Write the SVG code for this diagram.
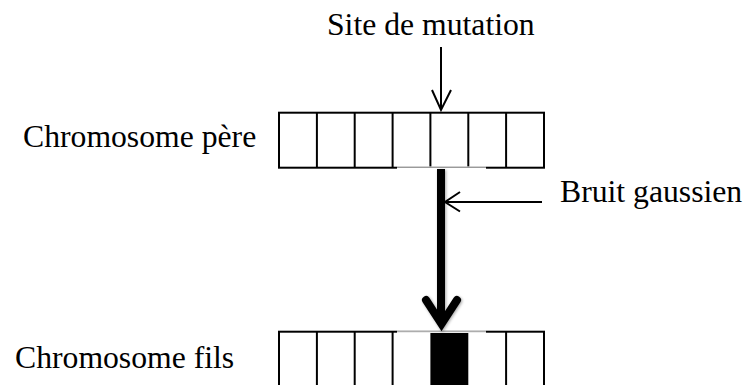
<svg xmlns="http://www.w3.org/2000/svg" width="744" height="385" viewBox="0 0 744 385">
  <style>
    .label { font-family: "Liberation Serif", "Times New Roman", serif; font-size: 31.7px; fill: #000; }
    .cell { fill: #fff; stroke: #000; stroke-width: 2; }
    .div { stroke: #000; stroke-width: 2; }
    .thin { fill: none; stroke: #000; stroke-width: 2; }
    .thick { fill: none; stroke: #000; stroke-width: 8; }
    .seam { stroke: #9a9a9a; stroke-width: 1; }
  </style>
  <defs>
    <filter id="soft" x="-30%" y="-10%" width="160%" height="120%">
      <feGaussianBlur in="SourceAlpha" stdDeviation="1.6" result="b"/>
      <feOffset dx="1" dy="1" result="o"/>
      <feComponentTransfer in="o" result="s"><feFuncA type="linear" slope="0.35"/></feComponentTransfer>
      <feMerge><feMergeNode in="s"/><feMergeNode in="SourceGraphic"/></feMerge>
    </filter>
  </defs>

  <!-- parent chromosome: 7 genes -->
  <g id="chromosome-pere">
    <rect class="cell" x="279" y="112.7" width="265" height="55"/>
    <line class="div" x1="316.9" y1="112.7" x2="316.9" y2="167.7"/>
    <line class="div" x1="354.7" y1="112.7" x2="354.7" y2="167.7"/>
    <line class="div" x1="392.6" y1="112.7" x2="392.6" y2="167.7"/>
    <line class="div" x1="430.4" y1="112.7" x2="430.4" y2="166.7"/>
    <line class="div" x1="468.3" y1="112.7" x2="468.3" y2="166.7"/>
    <line class="div" x1="506.1" y1="112.7" x2="506.1" y2="167.7"/>
    <!-- softened segment of the lower edge -->
    <rect x="397" y="166.6" width="89" height="2.4" fill="#fff"/>
    <line class="seam" x1="397" y1="167.5" x2="486" y2="167.5"/>
    <text class="label" x="23" y="147">Chromosome père</text>
  </g>

  <!-- child chromosome: mutated gene filled -->
  <g id="chromosome-fils">
    <rect class="cell" x="279" y="331.7" width="265" height="60"/>
    <line class="div" x1="316.9" y1="331.7" x2="316.9" y2="391"/>
    <line class="div" x1="354.7" y1="331.7" x2="354.7" y2="391"/>
    <line class="div" x1="392.6" y1="331.7" x2="392.6" y2="391"/>
    <line class="div" x1="506.1" y1="331.7" x2="506.1" y2="391"/>
    <rect x="397" y="330.6" width="89" height="2.4" fill="#fff"/>
    <line class="seam" x1="397" y1="331.7" x2="486" y2="331.7"/>
    <rect x="430.4" y="333" width="37.9" height="60" fill="#000"/>
    <text class="label" x="15" y="368">Chromosome fils</text>
  </g>

  <g id="site-mutation">
    <text class="label" x="327" y="35">Site de mutation</text>
  </g>

  <g id="bruit-gaussien">
    <text class="label" x="560" y="202">Bruit gaussien</text>
  </g>

  <g id="connectors">
    <!-- mutation site pointer -->
    <line class="thin" x1="441" y1="47" x2="441" y2="110"/>
    <polyline class="thin" points="432,90 441,110 451,90"/>
    <!-- noise injection -->
    <line class="thin" x1="445" y1="202" x2="542" y2="202"/>
    <polyline class="thin" points="460,192 445,202 460,211.5"/>
    <!-- parent to child -->
    <g filter="url(#soft)">
      <line class="thick" x1="441" y1="169" x2="441" y2="322"/>
      <polyline class="thick" points="426,300 441.5,324 457,300" stroke-linecap="round" stroke-linejoin="miter"/>
    </g>
  </g>
</svg>
